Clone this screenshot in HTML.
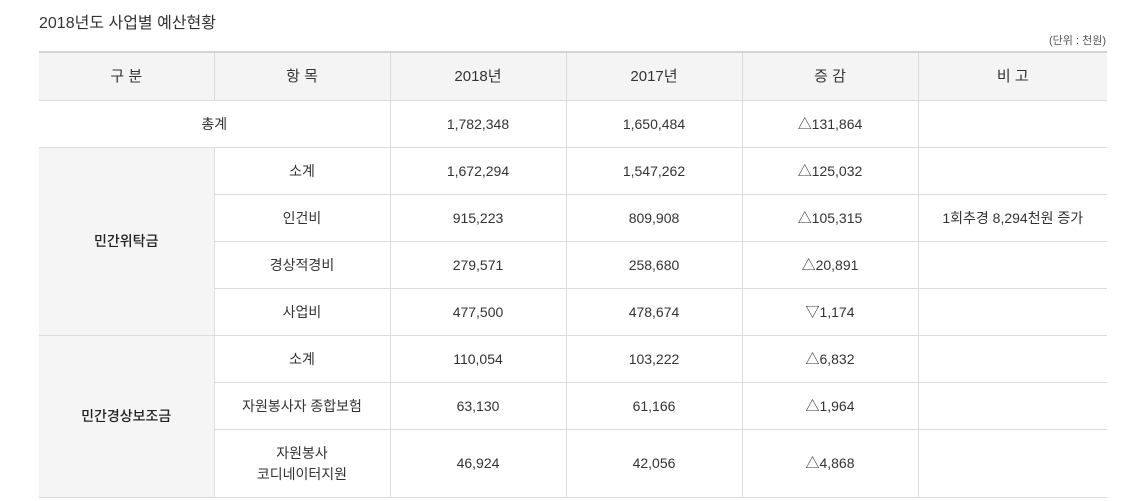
<!DOCTYPE html>
<html><head><meta charset="utf-8"><style>
body{margin:0;background:#fff;font-family:"Liberation Sans","Noto Sans CJK KR",sans-serif;color:#333;width:1146px;height:501px;overflow:hidden;position:relative}
.t{position:absolute;left:39px;top:9px;font-size:16px;color:#333}
.u{position:absolute;right:40px;top:32px;font-size:11px;color:#555}
table{position:absolute;left:39px;top:51px;border-collapse:collapse;table-layout:fixed;width:1068px;font-size:14px}
td,th{border:1px solid #dcdcdc;text-align:center;font-weight:normal;padding:0;line-height:21px}
tr>*:first-child{border-left:none}
tr>*:last-child{border-right:none}
th{background:#f4f4f4;height:47px;font-size:15px;border-top:2px solid #d4d4d4}
td{height:46px}
td.g{background:#f5f5f5;color:#222;font-weight:500;border-left:none}
td.r{border-right:none}
</style></head><body>
<div class="t">2018년도 사업별 예산현황</div>
<div class="u">(단위 : 천원)</div>
<table>
<colgroup><col style="width:175px"><col style="width:176px"><col style="width:176px"><col style="width:176px"><col style="width:176px"><col style="width:189px"></colgroup>
<tr><th>구 분</th><th>항 목</th><th>2018년</th><th>2017년</th><th>증 감</th><th>비 고</th></tr>
<tr><td colspan="2" style="border-left:none">총계</td><td>1,782,348</td><td>1,650,484</td><td>△131,864</td><td class="r"></td></tr>
<tr><td class="g" rowspan="4">민간위탁금</td><td>소계</td><td>1,672,294</td><td>1,547,262</td><td>△125,032</td><td class="r"></td></tr>
<tr><td>인건비</td><td>915,223</td><td>809,908</td><td>△105,315</td><td class="r">1회추경 8,294천원 증가</td></tr>
<tr><td>경상적경비</td><td>279,571</td><td>258,680</td><td>△20,891</td><td class="r"></td></tr>
<tr><td>사업비</td><td>477,500</td><td>478,674</td><td>▽1,174</td><td class="r"></td></tr>
<tr><td class="g" rowspan="3">민간경상보조금</td><td>소계</td><td>110,054</td><td>103,222</td><td>△6,832</td><td class="r"></td></tr>
<tr><td>자원봉사자 종합보험</td><td>63,130</td><td>61,166</td><td>△1,964</td><td class="r"></td></tr>
<tr><td style="height:67px">자원봉사<br>코디네이터지원</td><td>46,924</td><td>42,056</td><td>△4,868</td><td class="r"></td></tr>
</table>
</body></html>
